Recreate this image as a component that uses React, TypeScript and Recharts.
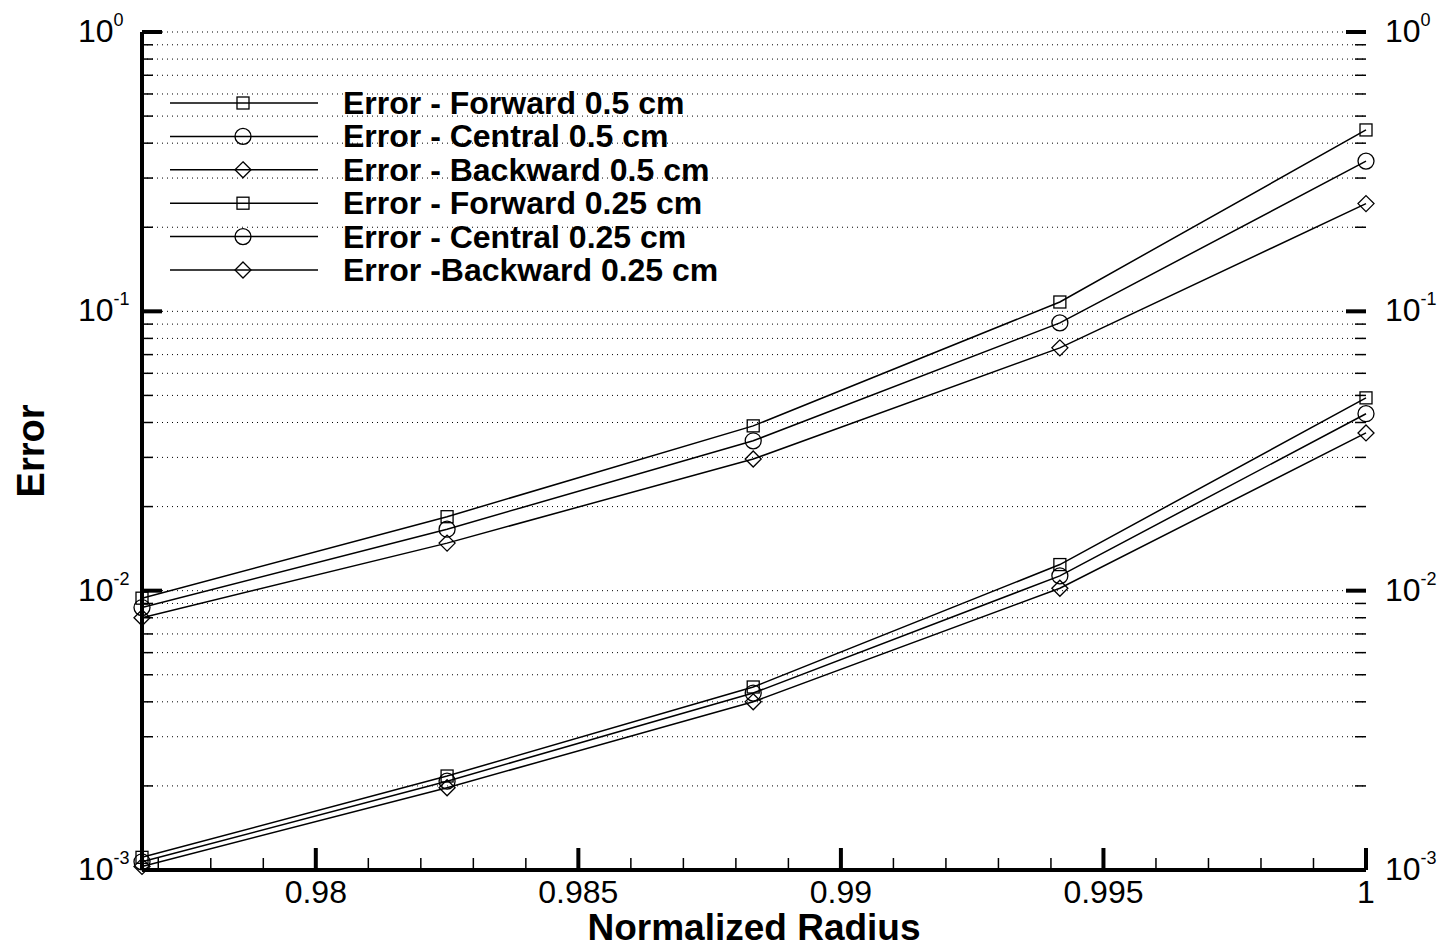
import { LineChart, Line, XAxis, YAxis, CartesianGrid, Legend } from 'recharts';

const radius = [0.97669, 0.9825, 0.98833, 0.99417, 1.0];

const forward05 = [0.0094, 0.0184, 0.0389, 0.108, 0.446];
const central05 = [0.0087, 0.0166, 0.0344, 0.0909, 0.345];
const backward05 = [0.008, 0.0148, 0.0296, 0.074, 0.243];
const forward025 = [0.00111, 0.00217, 0.00452, 0.0124, 0.049];
const central025 = [0.00107, 0.00208, 0.0043, 0.0113, 0.043];
const backward025 = [0.00103, 0.00197, 0.004, 0.0102, 0.0367];

const xTicks = [
  0.977, 0.978, 0.979, 0.98, 0.981, 0.982, 0.983, 0.984, 0.985, 0.986, 0.987, 0.988,
  0.989, 0.99, 0.991, 0.992, 0.993, 0.994, 0.995, 0.996, 0.997, 0.998, 0.999, 1.0,
];

const yTicks = [
  0.001, 0.002, 0.003, 0.004, 0.005, 0.006, 0.007, 0.008, 0.009,
  0.01, 0.02, 0.03, 0.04, 0.05, 0.06, 0.07, 0.08, 0.09,
  0.1, 0.2, 0.3, 0.4, 0.5, 0.6, 0.7, 0.8, 0.9,
  1,
];

type Shape = 'square' | 'circle' | 'diamond';

const series: { key: string; name: string; shape: Shape; values: number[] }[] = [
  { key: 'f05', name: 'Error - Forward 0.5 cm', shape: 'square', values: forward05 },
  { key: 'c05', name: 'Error - Central 0.5 cm', shape: 'circle', values: central05 },
  { key: 'b05', name: 'Error - Backward 0.5 cm', shape: 'diamond', values: backward05 },
  { key: 'f025', name: 'Error - Forward 0.25 cm', shape: 'square', values: forward025 },
  { key: 'c025', name: 'Error - Central 0.25 cm', shape: 'circle', values: central025 },
  { key: 'b025', name: 'Error -Backward 0.25 cm', shape: 'diamond', values: backward025 },
];

const data = radius.map((r, i) => {
  const row: Record<string, number> = { r };
  series.forEach((s) => (row[s.key] = s.values[i]));
  return row;
});

const FONT = 'Liberation Sans, Arial, Helvetica, sans-serif';

function Marker({ cx, cy, shape }: { cx: number; cy: number; shape: Shape }) {
  if (cx == null || cy == null) return null;
  if (shape === 'square')
    return <rect x={cx - 6} y={cy - 6} width={12} height={12} fill="none" stroke="#000" strokeWidth={1.3} />;
  if (shape === 'circle') return <circle cx={cx} cy={cy} r={8} fill="none" stroke="#000" strokeWidth={1.3} />;
  return (
    <path
      d={`M${cx},${cy - 8} L${cx + 8},${cy} L${cx},${cy + 8} L${cx - 8},${cy} Z`}
      fill="none"
      stroke="#000"
      strokeWidth={1.3}
    />
  );
}

const isDecade = (v: number) => {
  const l = Math.log10(v);
  return Math.abs(l - Math.round(l)) < 1e-6;
};

function LeftTick(props: any) {
  const { x, y, payload } = props;
  const major = isDecade(payload.value);
  return (
    <g>
      <line x1={x} x2={x + (major ? 20 : 11)} y1={y} y2={y} stroke="#000" strokeWidth={major ? 4 : 1.5} />
      {major && (
        <text x={x - 64} y={y + 10} fontSize={32} fontFamily={FONT} fill="#000">
          10<tspan dy={-16} fontSize={18}>{Math.round(Math.log10(payload.value))}</tspan>
        </text>
      )}
    </g>
  );
}

function RightTick(props: any) {
  const { x, y, payload } = props;
  const major = isDecade(payload.value);
  return (
    <g>
      <line x1={x - (major ? 20 : 11)} x2={x} y1={y} y2={y} stroke="#000" strokeWidth={major ? 4 : 1.5} />
      {major && (
        <text x={x + 19} y={y + 10} fontSize={32} fontFamily={FONT} fill="#000">
          10<tspan dy={-16} fontSize={18}>{Math.round(Math.log10(payload.value))}</tspan>
        </text>
      )}
    </g>
  );
}

function BottomTick(props: any) {
  const { x, y, payload } = props;
  const v = payload.value;
  const major = Math.abs(v * 200 - Math.round(v * 200)) < 1e-6;
  return (
    <g>
      <line x1={x} x2={x} y1={y} y2={y - (major ? 22 : 12)} stroke="#000" strokeWidth={major ? 4 : 1.5} />
      {major && (
        <text x={x} y={y + 33} fontSize={32} fontFamily={FONT} textAnchor="middle" fill="#000">
          {String(Number(v.toFixed(3)))}
        </text>
      )}
    </g>
  );
}

function LegendBox() {
  return (
    <svg width={620} height={215}>
      {series.map((s, i) => {
        const cy = 18 + i * 33.4;
        return (
          <g key={s.key}>
            <line x1={10} x2={158} y1={cy} y2={cy} stroke="#000" strokeWidth={1.5} />
            <Marker cx={83} cy={cy} shape={s.shape} />
            <text x={183} y={cy + 11} fontSize={32} fontWeight="bold" fontFamily={FONT} fill="#000">
              {s.name}
            </text>
          </g>
        );
      })}
    </svg>
  );
}

export default function App() {
  return (
    <>
      <style>{'body{margin:0}'}</style>
      <LineChart width={1443} height={948} data={data} margin={{ top: 32, right: 17, left: 82, bottom: 38 }}>
        <CartesianGrid vertical={false} stroke="#000" strokeDasharray="1 4" strokeWidth={1} />
        <XAxis
          dataKey="r"
          type="number"
          domain={[radius[0], 1]}
          ticks={xTicks}
          interval={0}
          height={40}
          tickSize={0}
          tickMargin={0}
          tickLine={false}
          axisLine={{ stroke: '#000', strokeWidth: 4 }}
          tick={<BottomTick />}
          label={{
            content: (p: any) => {
              const vb = p.viewBox;
              return (
                <text
                  x={vb.x + vb.width / 2}
                  y={vb.y + 70}
                  textAnchor="middle"
                  fontSize={37}
                  fontWeight="bold"
                  fontFamily={FONT}
                  fill="#000"
                >
                  Normalized Radius
                </text>
              );
            },
          }}
        />
        <YAxis
          scale="log"
          domain={[0.001, 1]}
          ticks={yTicks}
          interval={0}
          width={60}
          tickSize={0}
          tickMargin={0}
          tickLine={false}
          axisLine={{ stroke: '#000', strokeWidth: 4 }}
          tick={<LeftTick />}
          label={{
            content: (p: any) => {
              const vb = p.viewBox;
              const cx = vb.x - 51;
              const cy = vb.y + vb.height / 2;
              return (
                <text
                  x={cx}
                  y={cy}
                  transform={`rotate(-90 ${cx} ${cy})`}
                  textAnchor="middle"
                  dominantBaseline="central"
                  fontSize={38}
                  fontWeight="bold"
                  fontFamily={FONT}
                  fill="#000"
                >
                  Error
                </text>
              );
            },
          }}
        />
        <YAxis
          yAxisId="right"
          orientation="right"
          scale="log"
          domain={[0.001, 1]}
          allowDataOverflow
          ticks={yTicks}
          interval={0}
          width={60}
          tickSize={0}
          tickMargin={0}
          tickLine={false}
          axisLine={false}
          tick={<RightTick />}
        />
        <Legend
          layout="horizontal"
          verticalAlign="middle"
          align="center"
          wrapperStyle={{ left: 160, top: 85, width: 620, height: 215 }}
          content={() => <LegendBox />}
        />
        {series.map((s) => (
          <Line
            key={s.key}
            dataKey={s.key}
            name={s.name}
            stroke="#000"
            strokeWidth={1.5}
            isAnimationActive={false}
            dot={(p: any) => <Marker key={`${s.key}-${p.index}`} cx={p.cx} cy={p.cy} shape={s.shape} />}
            activeDot={false}
            legendType="none"
          />
        ))}
      </LineChart>
    </>
  );
}
